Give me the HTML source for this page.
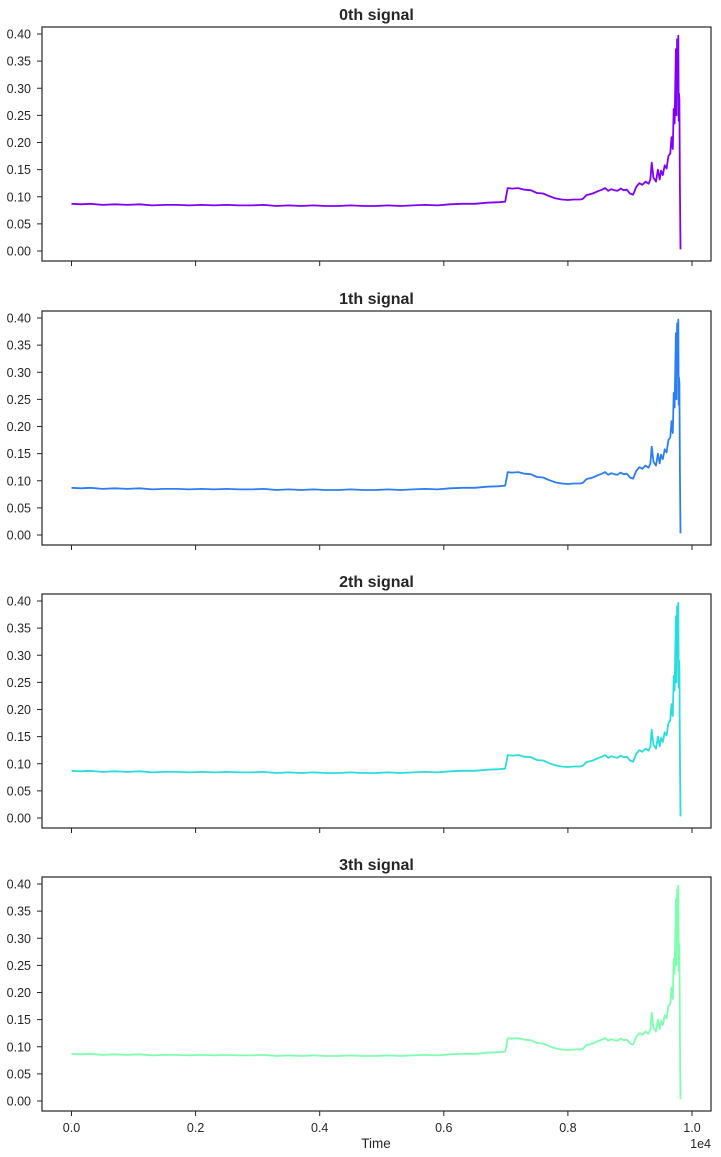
<!DOCTYPE html>
<html><head><meta charset="utf-8"><style>
body{margin:0;background:#fff;}
svg{display:block;font-family:"Liberation Sans",Arial,sans-serif;}
</style></head><body>
<svg id="chart" width="721" height="1157" viewBox="0 0 721 1157"></svg>
<script>
const times=[0,150,300,500,700,900,1100,1300,1500,1700,1900,2100,2300,2500,2700,2900,3100,3300,3500,3700,3900,4100,4300,4500,4700,4900,5100,5300,5500,5700,5900,6100,6300,6500,6700,6900,6990,7030,7100,7200,7300,7400,7500,7600,7700,7800,7900,8000,8100,8200,8240,8300,8400,8500,8550,8600,8650,8700,8750,8800,8850,8900,8950,9000,9050,9100,9150,9200,9250,9300,9330,9350,9380,9420,9450,9480,9500,9530,9560,9590,9620,9650,9670,9690,9705,9720,9740,9750,9760,9770,9780,9785,9790,9797,9805,9815];
const values=[0.087,0.086,0.087,0.085,0.086,0.085,0.086,0.084,0.085,0.085,0.084,0.085,0.084,0.085,0.084,0.084,0.085,0.083,0.084,0.083,0.084,0.083,0.083,0.084,0.083,0.083,0.084,0.083,0.084,0.085,0.084,0.086,0.087,0.087,0.089,0.090,0.091,0.116,0.115,0.116,0.113,0.112,0.107,0.106,0.101,0.097,0.095,0.094,0.095,0.095,0.096,0.103,0.106,0.111,0.113,0.116,0.111,0.114,0.112,0.111,0.115,0.112,0.113,0.106,0.104,0.118,0.125,0.122,0.128,0.124,0.132,0.163,0.135,0.128,0.150,0.132,0.148,0.140,0.158,0.152,0.175,0.180,0.210,0.188,0.262,0.235,0.372,0.250,0.390,0.300,0.397,0.240,0.290,0.280,0.120,0.003];
const yTicks=[0,0.05,0.10,0.15,0.20,0.25,0.30,0.35,0.40];
const yTickLabels=["0.00","0.05","0.10","0.15","0.20","0.25","0.30","0.35","0.40"];
const xTicks=[0,2000,4000,6000,8000,10000];
const xTickLabels=["0.0","0.2","0.4","0.6","0.8","1.0"];
const titles=["0th signal","1th signal","2th signal","3th signal"];
const colors=["#8000ff","#2c7ef7","#2adddd","#7effb0"];
const NS="http://www.w3.org/2000/svg";
const svg=document.getElementById('chart');
function mk(t,a,p){const e=document.createElementNS(NS,t);for(const k in a)e.setAttribute(k,a[k]);(p||svg).appendChild(e);return e;}
const L=42,R=711,H=234;const tops=[27,311,594,877];
const xs=t=>71.5+(t/10000)*620.5;
titles.forEach((title,i)=>{
  const top=tops[i];
  const ys=v=>top+224-v*542.5;
  const g=mk('g',{});
  
  
  const tt=mk('text',{x:(L+R)/2,y:top-7,'text-anchor':'middle','font-size':'16','font-weight':'bold',fill:'#262626'},g);
  tt.textContent=title;
  
  
  yTicks.forEach((v,j)=>{
    mk('line',{x1:L-5,x2:L,y1:ys(v),y2:ys(v),stroke:'#262626','stroke-width':1},g);
    const t=mk('text',{x:L-11,y:ys(v)+4.5,'text-anchor':'end','font-size':'12.5',fill:'#262626'},g);
    t.textContent=yTickLabels[j];
    
    
  });
  xTicks.forEach((v,j)=>{
    mk('line',{x1:xs(v),x2:xs(v),y1:top+H,y2:top+H+5,stroke:'#262626','stroke-width':1},g);
    if(i===3){
      const t=mk('text',{x:xs(v),y:top+H+21,'text-anchor':'middle','font-size':'12.5',fill:'#262626'},g);
      t.textContent=xTickLabels[j];
      
      
    }
  });
  const d=times.map((t,k)=>(k?'L':'M')+xs(t).toFixed(1)+','+ys(values[k]).toFixed(1)).join('');
  const p=mk('path',{d:d,fill:'none',stroke:colors[i],'stroke-width':1.8,'stroke-linejoin':'round'},g);
  
  
  const f=mk('rect',{x:L,y:top,width:R-L,height:H,fill:'none',stroke:'#262626','stroke-width':1.2},g);
  
  
});
const xl=mk('text',{x:376,y:1148,'text-anchor':'middle','font-size':'13.5',fill:'#262626'});
xl.textContent='Time';


const ex=mk('text',{x:711,y:1148,'text-anchor':'end','font-size':'12.5',fill:'#262626'});
ex.textContent='1e4';


</script>
</body></html>
